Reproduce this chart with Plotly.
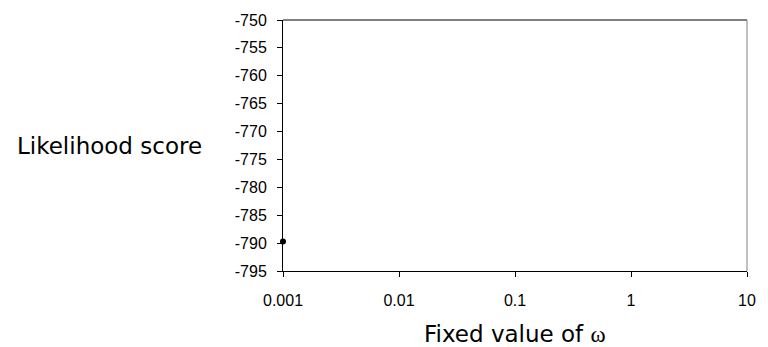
import plotly.graph_objects as go

omega = [0.001]
score = [-789.7]
x_ticks = [0.001, 0.01, 0.1, 1, 10]
x_tick_labels = ["0.001", "0.01", "0.1", "1", "10"]
y_ticks = [-750, -755, -760, -765, -770, -775, -780, -785, -790, -795]
y_tick_labels = ["-750", "-755", "-760", "-765", "-770", "-775", "-780", "-785", "-790", "-795"]

fig = go.Figure()
fig.add_trace(go.Scatter(x=omega, y=score, mode="markers",
                         marker=dict(color="black", size=6, symbol="circle"),
                         cliponaxis=False, showlegend=False, hoverinfo="skip"))

tick_font = dict(family="Liberation Sans, Arial", size=16, color="black")

fig.update_layout(
    width=768, height=347,
    margin=dict(l=283, r=13, t=17, b=76),
    paper_bgcolor="white", plot_bgcolor="white",
    font=dict(family="Liberation Sans, Arial", size=16, color="black"),
    xaxis=dict(type="log", range=[-3, 1], tickvals=x_ticks, ticktext=x_tick_labels,
               showgrid=False, zeroline=False, showline=True, linecolor="black",
               linewidth=1, ticks="outside", ticklen=5, tickcolor="black",
               tickfont=tick_font, ticklabelstandoff=10),
    yaxis=dict(range=[-795, -750], tickvals=y_ticks, ticktext=y_tick_labels,
               showgrid=False, zeroline=False, showline=True, linecolor="black",
               linewidth=1, ticks="outside", ticklen=5, tickcolor="black",
               tickfont=tick_font, ticklabelstandoff=7),
    shapes=[
        dict(type="line", xref="paper", yref="paper", x0=0, x1=1, y0=1, y1=1,
             line=dict(color="black", width=1)),
        dict(type="line", xref="paper", yref="paper", x0=1, x1=1, y0=0, y1=1,
             line=dict(color="#808080", width=1)),
    ],
    annotations=[
        dict(text="Likelihood score", xref="paper", yref="paper",
             x=-0.1695, y=0.497, xanchor="right", yanchor="middle", showarrow=False,
             font=dict(family="DejaVu Sans, Verdana", size=23, color="black")),
        dict(text="Fixed value of <span style='font-family:Liberation Serif, Times New Roman'>ω</span>",
             xref="paper", yref="paper", x=0.5, y=0, yshift=-63,
             xanchor="center", yanchor="middle", showarrow=False,
             font=dict(family="DejaVu Sans, Verdana", size=23, color="black")),
    ],
)

fig.write_html("out.html", config={"displayModeBar": False, "staticPlot": True},
               post_script="document.body.style.margin='0';document.body.style.overflow='hidden';")
